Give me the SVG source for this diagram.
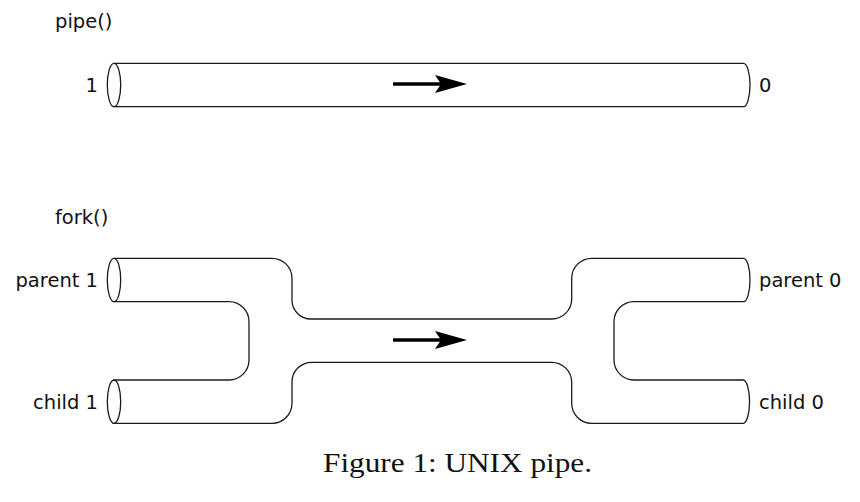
<svg xmlns="http://www.w3.org/2000/svg" width="860" height="502" viewBox="0 0 860 502">
<style>
.p{fill:none;stroke:#1a1a1a;stroke-width:1.3;stroke-linecap:round;stroke-linejoin:round}
.t{font-family:"DejaVu Sans",sans-serif;font-size:19.5px;fill:#111}
.cap{font-family:"Liberation Serif",serif;font-size:27px;fill:#111}
.ar{fill:#000}
</style>
<defs>
<g id="arrow">
<line x1="393" y1="0" x2="445" y2="0" stroke="#000" stroke-width="3.5"/>
<path class="ar" d="M467,0 L435,-9 L441,0 L435,9 Z"/>
</g>
</defs>
<rect width="860" height="502" fill="#fff"/>

<g id="pipe">
<text class="t" x="55" y="28">pipe()</text>
<path class="p" d="M114,63.3 H743.5 A6.5,21.7 0 0 1 743.5,106.7 H114"/>
<ellipse class="p" cx="114" cy="85" rx="6.7" ry="21.7"/>
<text class="t" x="98" y="92" text-anchor="end">1</text>
<text class="t" x="759" y="92">0</text>
<use href="#arrow" y="84"/>
</g>

<g id="fork">
<text class="t" x="55" y="224">fork()</text>
<path class="p" d="M114,258.3 H272 A20,20 0 0 1 292,278.3 V300 A19,19 0 0 0 311,319 H551.7 A20,20 0 0 0 571.7,299 V278.3 A20,20 0 0 1 591.7,258.3 H743.5 A6.5,21.7 0 0 1 743.5,301.7 H634 A20,20 0 0 0 614,321.7 V360 A20,20 0 0 0 634,380 H743.5 A6.5,21.7 0 0 1 743.5,423.3 H591.7 A20,20 0 0 1 571.7,403.3 V382.3 A20,20 0 0 0 551.7,362.3 H311.7 A19.7,19.7 0 0 0 292,382 V403.3 A20,20 0 0 1 272,423.3 H114"/>
<path class="p" d="M114,301.7 H229 A20,20 0 0 1 249,321.7 V360 A20,20 0 0 1 229,380 H114"/>
<ellipse class="p" cx="114" cy="280" rx="6.7" ry="21.7"/>
<ellipse class="p" cx="114" cy="401.7" rx="6.7" ry="21.7"/>
<text class="t" x="98" y="287" text-anchor="end">parent 1</text>
<text class="t" x="98" y="408.5" text-anchor="end">child 1</text>
<text class="t" x="759" y="287">parent 0</text>
<text class="t" x="759" y="408.5">child 0</text>
<use href="#arrow" y="340"/>
</g>

<text class="cap" x="323" y="472" textLength="269" lengthAdjust="spacingAndGlyphs">Figure 1: UNIX pipe.</text>
</svg>
